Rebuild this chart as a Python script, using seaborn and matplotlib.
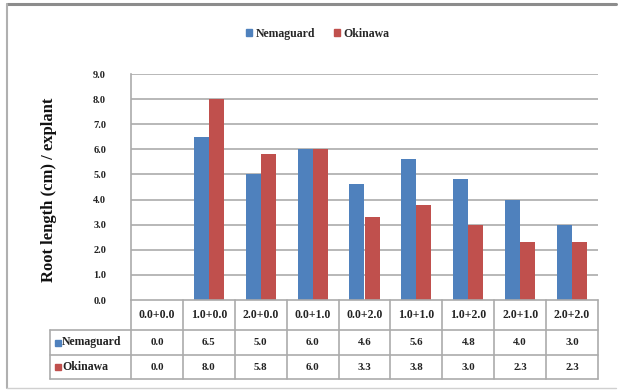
import matplotlib
matplotlib.use("Agg")
import matplotlib.pyplot as plt
from matplotlib.patches import Rectangle
from matplotlib.lines import Line2D
import pandas as pd
import seaborn as sns

# Treatments (auxin + cytokinin combinations) and root length per explant
treatments = ["0.0+0.0", "1.0+0.0", "2.0+0.0", "0.0+1.0", "0.0+2.0",
              "1.0+1.0", "1.0+2.0", "2.0+1.0", "2.0+2.0"]
nemaguard = [0.0, 6.5, 5.0, 6.0, 4.6, 5.6, 4.8, 4.0, 3.0]
okinawa = [0.0, 8.0, 5.8, 6.0, 3.3, 3.8, 3.0, 2.3, 2.3]
series_names = ["Nemaguard", "Okinawa"]
y_ticks = [0.0, 1.0, 2.0, 3.0, 4.0, 5.0, 6.0, 7.0, 8.0, 9.0]

colors = {"Nemaguard": "#4F81BD", "Okinawa": "#C0504D"}

df = pd.DataFrame({
    "treatment": treatments * 2,
    "series": [series_names[0]] * len(treatments) + [series_names[1]] * len(treatments),
    "value": nemaguard + okinawa,
})

sns.set_theme(style="white")
plt.rcParams["font.family"] = ["Liberation Serif", "DejaVu Serif"]
plt.rcParams["font.weight"] = "bold"

W, H = 618, 390
fig = plt.figure(figsize=(W / 100, H / 100), dpi=100)
fig.patch.set_facecolor("white")


def fx(px):
    return px / W


def fy(py):
    return 1 - py / H


# plot area in pixel coordinates
left, right, top, bottom = 131, 598, 74, 300
ax = fig.add_axes([fx(left), fy(bottom), fx(right - left), (bottom - top) / H])

sns.barplot(data=df, x="treatment", y="value", hue="series", order=treatments,
            hue_order=series_names, palette=colors, width=0.58, gap=0,
            saturation=1, edgecolor="none", linewidth=0, ax=ax, legend=False)

ax.set_ylim(0, 9)
ax.set_xlim(-0.5, len(treatments) - 0.5)
ax.set_yticks(y_ticks)
ax.set_yticklabels([f"{v:.1f}" for v in y_ticks], fontsize=7.5, fontweight="bold",
                   color="#222222")
ax.tick_params(axis="y", length=0, pad=18)
ax.set_xticks([])
ax.set_xlabel("")
ax.set_ylabel("")
for v in y_ticks[1:]:
    ax.axhline(v, color="#ABABAB", lw=1.2, zorder=0)
for side in ["top", "right", "bottom"]:
    ax.spines[side].set_visible(False)
ax.spines["left"].set_color("#ABABAB")
ax.spines["left"].set_linewidth(1.2)
ax.set_facecolor("white")

# y-axis title
fig.text(fx(49), fy(190), "Root length (cm) / explant", rotation=90,
         ha="center", va="center", fontsize=12, fontweight="bold", color="#111111")

# legend
handles = [Rectangle((0, 0), 1, 1, color=colors[s]) for s in series_names]
fig.legend(handles, series_names, loc="center", bbox_to_anchor=(fx(318), fy(34)),
           ncol=2, frameon=False, handlelength=0.5, handleheight=0.5,
           handletextpad=0.3, columnspacing=1.6,
           prop={"size": 8.5, "weight": "bold"})

# data table beneath the plot
grid_c = "#ABABAB"
col_w = (right - left) / len(treatments)
row_y = [300, 330, 355, 379]
label_left = 50


def hline(y, x0, x1):
    fig.add_artist(Line2D([fx(x0), fx(x1)], [fy(y), fy(y)], color=grid_c, lw=1.2))


def vline(x, y0, y1):
    fig.add_artist(Line2D([fx(x), fx(x)], [fy(y0), fy(y1)], color=grid_c, lw=1.2))


hline(row_y[0], left, right)
for y in row_y[1:]:
    hline(y, label_left, right)
vline(label_left, row_y[1], row_y[3])
for i in range(len(treatments) + 1):
    vline(left + i * col_w, row_y[0], row_y[3])

head_kw = dict(ha="center", va="center", fontsize=8.5, fontweight="bold", color="#222222")
cell_kw = dict(ha="center", va="center", fontsize=7.8, fontweight="bold", color="#222222")
for i, t in enumerate(treatments):
    cx = left + (i + 0.5) * col_w
    fig.text(fx(cx), fy((row_y[0] + row_y[1]) / 2), t, **head_kw)
    fig.text(fx(cx), fy((row_y[1] + row_y[2]) / 2), f"{nemaguard[i]:.1f}", **cell_kw)
    fig.text(fx(cx), fy((row_y[2] + row_y[3]) / 2), f"{okinawa[i]:.1f}", **cell_kw)

for r, s in enumerate(series_names):
    yc = (row_y[r + 1] + row_y[r + 2]) / 2
    fig.add_artist(Rectangle((fx(55), fy(yc + 3)), fx(6), 6 / H, color=colors[s]))
    fig.text(fx(62), fy(yc), s, ha="left", va="center", fontsize=8.5,
             fontweight="bold", color="#222222")

# chart frame
fig.add_artist(Line2D([fx(7), fx(616)], [fy(4), fy(4)], color="#8C8C8C", lw=2.2))
fig.add_artist(Line2D([fx(7), fx(7)], [fy(4), fy(388)], color="#B0B0B0", lw=1.5))
fig.add_artist(Line2D([fx(7), fx(616)], [fy(388), fy(388)], color="#D0D0D0", lw=1.0))

fig.savefig("out.png", dpi=100, facecolor="white")
